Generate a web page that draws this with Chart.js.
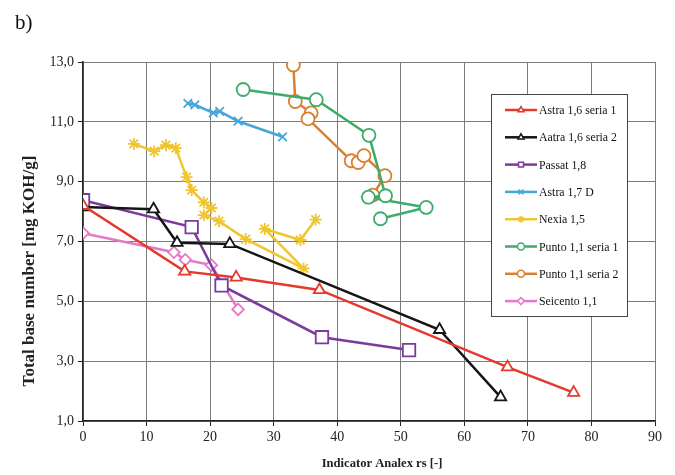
<!DOCTYPE html>
<html>
<head>
<meta charset="utf-8">
<title>Total base number vs Analex rs</title>
<script src="https://cdn.jsdelivr.net/npm/chart.js@4/dist/chart.umd.min.js"></script>
<style>
    body { margin: 0; background: #fff; }
    #wrap { position: relative; width: 675px; height: 475px; }
    #panel { position: absolute; left: 15px; top: 10px; font: 21px "Liberation Serif", serif; color: #111; }
</style>
</head>
<body>
<div id="wrap">
    <canvas id="tbnChart" width="675" height="475"></canvas>
    <div id="panel">b)</div>
</div>
<script>
// Series data (x = Analex rs, y = TBN)
const seriesNames = ['Astra 1,6 seria 1', 'Aatra 1,6 seria 2', 'Passat 1,8', 'Astra 1,7 D',
                     'Nexia 1,5', 'Punto 1,1 seria 1', 'Punto 1,1 seria 2', 'Seicento 1,1'];

const astra1X = [0, 16.0, 24.1, 37.2, 66.8, 77.2];
const astra1Y = [8.2, 6.0, 5.8, 5.38, 2.8, 1.95];

const astra2X = [0, 11.1, 14.8, 23.1, 56.1, 65.7];
const astra2Y = [8.15, 8.08, 6.96, 6.92, 4.05, 1.8];

const passatX = [0, 17.1, 21.8, 37.6, 51.3];
const passatY = [8.38, 7.48, 5.53, 3.8, 3.37];

const astraDX = [16.5, 17.6, 20.5, 21.5, 24.4, 31.4];
const astraDY = [11.62, 11.57, 11.3, 11.35, 11.02, 10.5];

const nexiaX = [8.0, 11.2, 13.05, 14.6, 16.3, 17.1, 19.0, 20.2, 19.0, 21.4, 25.6, 34.7, 28.6, 34.2, 36.6];
const nexiaY = [10.26, 10.02, 10.22, 10.12, 9.15, 8.72, 8.31, 8.12, 7.88, 7.68, 7.08, 6.1, 7.42, 7.05, 7.73];

const punto1X = [25.2, 36.7, 45.0, 47.6, 44.9, 54.0, 46.8];
const punto1Y = [12.08, 11.74, 10.55, 8.53, 8.48, 8.14, 7.76];

const punto2X = [33.1, 33.4, 35.9, 35.4, 42.2, 43.3, 44.2, 47.5, 45.6];
const punto2Y = [12.9, 11.68, 11.3, 11.1, 9.7, 9.64, 9.87, 9.2, 8.55];

const seicentoX = [0, 14.3, 16.1, 20.2, 24.4];
const seicentoY = [7.28, 6.64, 6.39, 6.21, 4.73];

const xTicks = [0, 10, 20, 30, 40, 50, 60, 70, 80, 90];
const yTicks = [1, 3, 5, 7, 9, 11, 13];

const xTitle = 'Indicator Analex rs [-]';
const yTitle = 'Total base number [mg KOH/g]';

const SERIF = '"Liberation Serif", "Times New Roman", serif';

function pairs(xs, ys) {
    return xs.map((x, i) => ({ x: x, y: ys[i] }));
}

function makeSeries(idx, xs, ys, color, style, radius) {
    return {
        label: seriesNames[idx],
        data: pairs(xs, ys),
        showLine: true,
        borderColor: color,
        borderWidth: 2.5,
        pointStyle: style,
        pointRadius: radius,
        pointBorderWidth: 1.8,
        pointBorderColor: color,
        pointBackgroundColor: '#fff',
        tension: 0
    };
}

// Legend drawn as a boxed panel inside the plot, like the original
const boxLegend = {
    id: 'boxLegend',
    afterDatasetsDraw(chart) {
        const ctx = chart.ctx;
        const left = 491, top = 94, width = 136, height = 222;
        ctx.save();
        ctx.fillStyle = '#fff';
        ctx.fillRect(left, top, width, height);
        ctx.strokeStyle = '#444';
        ctx.lineWidth = 1;
        ctx.strokeRect(left + 0.5, top + 0.5, width, height);
        ctx.font = '11.8px ' + SERIF;
        ctx.textBaseline = 'middle';
        chart.data.datasets.forEach((ds, i) => {
            const y = top + 16 + i * 27.3;
            ctx.strokeStyle = ds.borderColor;
            ctx.lineWidth = 2.5;
            ctx.beginPath();
            ctx.moveTo(505, y);
            ctx.lineTo(537, y);
            ctx.stroke();
            ctx.lineWidth = 1.5;
            ctx.fillStyle = '#fff';
            Chart.helpers.drawPoint(ctx, { pointStyle: ds.pointStyle, radius: 3.5, borderWidth: 1.5 }, 521, y);
            ctx.fillStyle = '#111';
            ctx.fillText(ds.label, 539, y + 1);
        });
        ctx.restore();
    }
};

// Axis titles placed where the original figure has them
const axisTitles = {
    id: 'axisTitles',
    afterDraw(chart) {
        const ctx = chart.ctx;
        ctx.save();
        ctx.fillStyle = '#222';
        ctx.textAlign = 'center';
        ctx.textBaseline = 'middle';
        ctx.font = 'bold 12.6px ' + SERIF;
        ctx.fillText(xTitle, 382, 464);
        ctx.translate(30, 271);
        ctx.rotate(-Math.PI / 2);
        ctx.font = 'bold 17px ' + SERIF;
        ctx.fillText(yTitle, 0, 0);
        ctx.restore();
    }
};

const datasets = [
    makeSeries(0, astra1X, astra1Y, '#e5392b', 'triangle', 6.5),
    makeSeries(1, astra2X, astra2Y, '#151515', 'triangle', 6.5),
    makeSeries(2, passatX, passatY, '#7a3a9e', 'rect', 8.8),
    makeSeries(3, astraDX, astraDY, '#46a6dc', 'crossRot', 6),
    makeSeries(4, nexiaX, nexiaY, '#f0c52e', 'star', 6),
    makeSeries(5, punto1X, punto1Y, '#3dac6a', 'circle', 6.5),
    makeSeries(6, punto2X, punto2Y, '#d9802f', 'circle', 6.5),
    makeSeries(7, seicentoX, seicentoY, '#e479c9', 'rectRot', 5.8)
];

const gridStyle = {
    color: '#7c7c7c',
    lineWidth: 1,
    borderDash: [2, 1],
    tickColor: '#222',
    tickLength: 5,
    tickBorderDash: []
};

const ctx = document.getElementById('tbnChart').getContext('2d');
const chart = new Chart(ctx, {
    type: 'scatter',
    data: { datasets: datasets },
    options: {
        responsive: false,
        animation: false,
        devicePixelRatio: 1,
        layout: { padding: { top: 62, right: 20, bottom: 0, left: 0 } },
        plugins: {
            legend: { display: false },
            tooltip: { enabled: false }
        },
        scales: {
            x: {
                type: 'linear',
                min: 0,
                max: 90,
                afterFit: scale => { scale.height = 54; },
                afterBuildTicks: scale => { scale.ticks = xTicks.map(v => ({ value: v })); },
                ticks: {
                    color: '#222',
                    font: { family: SERIF, size: 14 },
                    padding: 3,
                    maxRotation: 0
                },
                grid: gridStyle,
                border: { color: '#222', width: 1.5 }
            },
            y: {
                type: 'linear',
                min: 1,
                max: 13,
                afterFit: scale => { scale.width = 83; },
                afterBuildTicks: scale => { scale.ticks = yTicks.map(v => ({ value: v })); },
                ticks: {
                    color: '#222',
                    font: { family: SERIF, size: 14 },
                    padding: 4,
                    callback: v => v.toFixed(1).replace('.', ',')
                },
                grid: gridStyle,
                border: { color: '#222', width: 1.5 }
            }
        }
    },
    plugins: [boxLegend, axisTitles]
});
</script>
</body>
</html>
